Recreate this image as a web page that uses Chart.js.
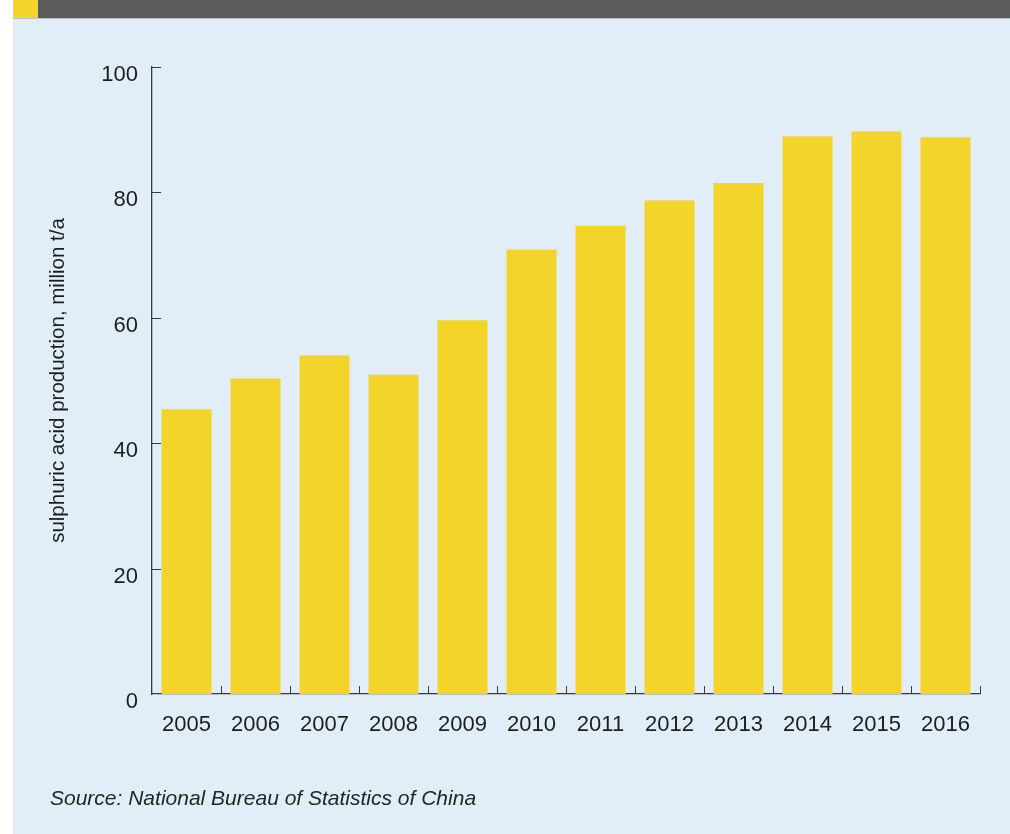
<!DOCTYPE html>
<html>
<head>
<meta charset="utf-8">
<title>Sulphuric acid production</title>
<script src="https://cdn.jsdelivr.net/npm/chart.js@4.4.1/dist/chart.umd.min.js"></script>
<style>
  html, body { margin: 0; padding: 0; background: #ffffff; }
  body { width: 1010px; height: 834px; position: relative; overflow: hidden; }
  .panel { position: absolute; left: 13px; top: 0; right: 0; bottom: 0; background: #e1eef8; }
  .header { position: absolute; left: 13px; top: 0; right: 0; height: 18px; background: #5b5b59; border-bottom: 1px solid #b9c2c9; }
  .header .mark { position: absolute; left: 0; top: 0; width: 25px; height: 18px; background: #f2d42a; }
  #wrap { position: absolute; left: 0; top: 0; width: 1010px; height: 834px; }
  .source { position: absolute; left: 50px; top: 786px; font: italic 21px "Liberation Sans", Arial, sans-serif; color: #262626; }
</style>
</head>
<body>
<div class="panel"></div>
<div class="header"><div class="mark"></div></div>
<div id="wrap"><canvas id="chart"></canvas></div>
<div class="source">Source: National Bureau of Statistics of China</div>
<script>
const years = ['2005', '2006', '2007', '2008', '2009', '2010', '2011', '2012', '2013', '2014', '2015', '2016'];
const production = [45.4, 50.3, 54.0, 50.9, 59.6, 70.9, 74.7, 78.7, 81.5, 88.9, 89.7, 88.8];
const yTicks = [0, 20, 40, 60, 80, 100];

const axisColor = '#3a3a3a';

// short tick marks drawn inward from both axes
const innerTicks = {
  id: 'innerTicks',
  afterDatasetsDraw(chart) {
    const { ctx, scales: { x, y } } = chart;
    ctx.save();
    ctx.strokeStyle = axisColor;
    ctx.lineWidth = 1;
    ctx.beginPath();
    yTicks.forEach(v => {
      if (v === 0) return;
      const py = Math.round(y.getPixelForValue(v)) + 0.5;
      ctx.moveTo(x.left, py);
      ctx.lineTo(x.left + 9, py);
    });
    const step = x.width / years.length;
    for (let i = 1; i <= years.length; i++) {
      const px = Math.round(x.left + i * step) + 0.5;
      ctx.moveTo(px, x.top);
      ctx.lineTo(px, x.top - 8);
    }
    ctx.stroke();
    ctx.restore();
  }
};

new Chart(document.getElementById('chart'), {
  type: 'bar',
  data: {
    labels: years,
    datasets: [{
      label: 'Sulphuric acid production',
      data: production,
      backgroundColor: '#f2d42a',
      barPercentage: 0.725,
      categoryPercentage: 1.0
    }]
  },
  options: {
    responsive: true,
    maintainAspectRatio: false,
    animation: false,
    layout: { padding: { left: 42, top: 67, right: 30, bottom: 0 } },
    plugins: {
      legend: { display: false },
      tooltip: { enabled: false }
    },
    scales: {
      x: {
        grid: { display: false, drawTicks: false },
        border: { color: axisColor, width: 1.3 },
        ticks: {
          color: '#1e1e1e',
          padding: 18,
          font: { family: '"Liberation Sans", Arial, sans-serif', size: 22 }
        },
        afterFit(scale) { scale.height = 140; }
      },
      y: {
        min: 0,
        max: 100,
        afterBuildTicks(scale) { scale.ticks = yTicks.map(v => ({ value: v })); },
        grid: { display: false, drawTicks: false },
        border: { color: axisColor, width: 1.3 },
        ticks: {
          color: '#1e1e1e',
          padding: 14,
          labelOffset: 8,
          font: { family: '"Liberation Sans", Arial, sans-serif', size: 22 }
        },
        title: {
          display: true,
          text: 'sulphuric acid production, million t/a',
          color: '#1e1e1e',
          font: { family: '"Liberation Sans", Arial, sans-serif', size: 20.5 },
          padding: { top: 4, bottom: 4 }
        },
        afterFit(scale) { scale.width = 110; }
      }
    }
  },
  plugins: [innerTicks]
});
</script>
</body>
</html>
